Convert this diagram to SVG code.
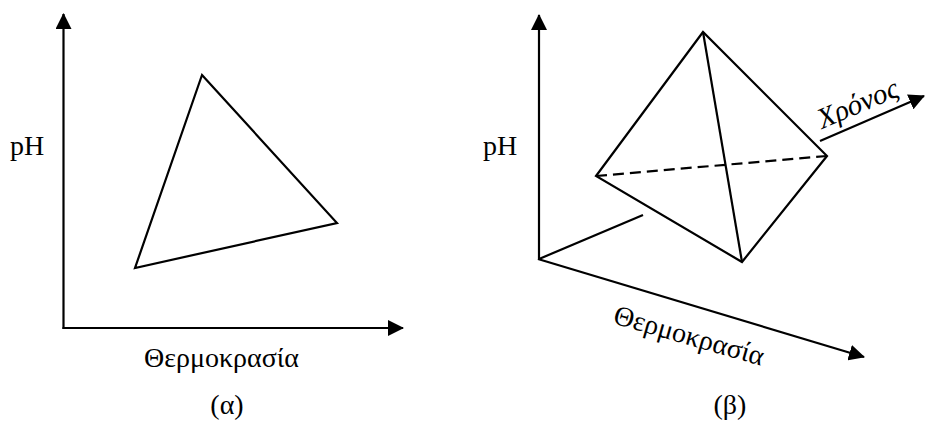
<svg xmlns="http://www.w3.org/2000/svg" width="926" height="432" viewBox="0 0 926 432">
<style>
.ln{stroke:#000;stroke-width:2.2;fill:none;stroke-linejoin:miter}
.ax{stroke:#000;stroke-width:2.2;fill:none;marker-end:url(#ah)}
.t{font-family:"Liberation Serif","Times New Roman",serif;font-size:28px;fill:#000}
.it{font-style:italic;font-size:29px}
</style>
<defs>
<marker id="ah" viewBox="0 0 16 16" refX="15" refY="8" markerWidth="16" markerHeight="16" markerUnits="userSpaceOnUse" orient="auto">
<path d="M0,0 L16,8 L0,16 z" fill="#000"/>
</marker>
</defs>
<g id="connectors">
<line class="ax" x1="63.5" y1="329" x2="63.5" y2="14"/>
<line class="ax" x1="62.5" y1="328" x2="403" y2="328"/>
<line class="ax" x1="539" y1="260" x2="539" y2="15"/>
<line class="ax" x1="538" y1="259" x2="864" y2="357"/>
<line class="ln" x1="539" y1="259" x2="643" y2="215"/>
<line class="ax" x1="820" y1="141" x2="924" y2="96"/>
</g>
<g id="triangle">
<polygon class="ln" points="202,75 337,223 135,268"/>
</g>
<g id="tetrahedron">
<polygon class="ln" points="703,32 596,176 742,262 827,156"/>
<line class="ln" x1="703" y1="32" x2="742" y2="262"/>
<line class="ln" x1="596" y1="176" x2="827" y2="156" stroke-width="2.6" stroke-dasharray="11,6"/>
</g>
<g id="labels">
<text class="t" x="10" y="155">pH</text>
<text class="t" x="144" y="367">Θερμοκρασία</text>
<text class="t" x="227" y="414" text-anchor="middle">(α)</text>
<text class="t" x="483" y="155">pH</text>
<text class="t" transform="translate(612,323) rotate(16)">Θερμοκρασία</text>
<text class="t it" transform="translate(822,129) rotate(-23)">Χρόνος</text>
<text class="t" x="730" y="414" text-anchor="middle">(β)</text>
</g>
</svg>
